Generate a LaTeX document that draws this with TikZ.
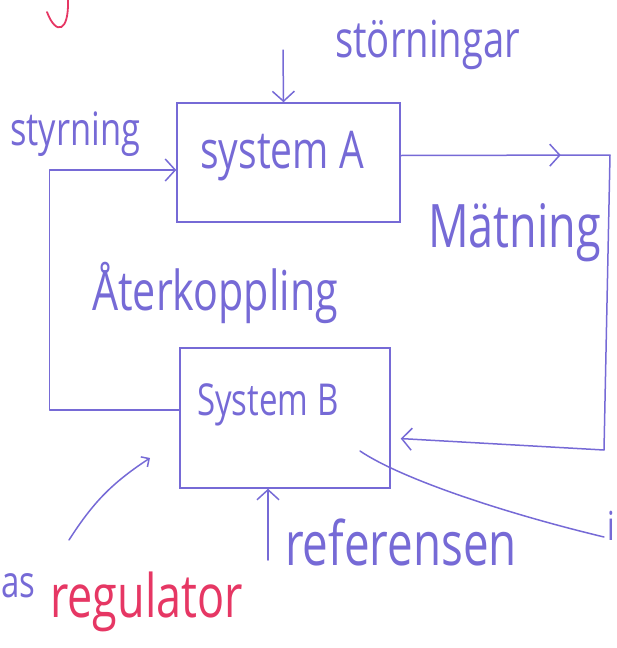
\documentclass[tikz,border=0pt]{standalone}
\usepackage{fontspec}
\usepackage{graphicx}
\setmainfont{Open Sans}
\usetikzlibrary{positioning, calc, arrows.meta, decorations.markings}

\definecolor{Pen}{RGB}{118,106,214}
\definecolor{RedPen}{RGB}{230,55,100}
\newcommand{\hand}[2]{\fontsize{#1}{#1}\selectfont\scalebox{0.75}[1]{#2}}

\tikzstyle{Line} = [draw=Pen, line width=1.5pt, line cap=round, line join=round]
\tikzstyle{Arrow} = [Line, -{Straight Barb[length=10pt, width=22pt]}]
\tikzstyle{Block} = [draw=Pen, line width=1.5pt, inner sep=0pt]
\tikzstyle{Text} = [text=Pen, inner sep=0pt, anchor=base west]

\begin{document}
\begin{tikzpicture}[x=1pt, y=-1pt]
    \useasboundingbox (0,0) rectangle (617,648);

    \node [Block, minimum width=223pt, minimum height=119pt] (1) at (288.5,162.5) {};
    \node [Block, minimum width=210pt, minimum height=140pt] (2) at (285,418) {};

    \node [Text] (3) at (200,168) {\hand{52}{system A}};
    \node [Text] (4) at (197,415) {\hand{44}{System B}};
    \node [Text] (5) at (335,57) {\hand{51}{störningar}};
    \node [Text] (6) at (10,145) {\hand{46}{styrning}};
    \node [Text] (7) at (428,247) {\hand{60}{Mätning}};
    \node [Text] (8) at (92,310) {\hand{55}{Återkoppling}};
    \node [Text] (9) at (285,565) {\hand{61}{referensen}};
    \node [Text, text=RedPen] (10) at (50,617) {\hand{60}{regulator}};
    \node [Text] (11) at (1,597) {\hand{44}{as}};
    \node [Text] (12) at (607,540) {\hand{40}{i}};

    \coordinate (a) at (283,50);
    \coordinate (b) at (610,155);
    \coordinate (c) at (604,450);
    \coordinate (d) at (268,560);
    \coordinate (e) at (360,451);
    \coordinate (f) at (604,537);
    \coordinate (g) at (69,540);
    \coordinate (h) at (150,458);

    \draw[Arrow] (a) -- ([xshift=-5pt]1.north);
    \draw[Arrow] (d) -- ([xshift=-17pt]2.south);
    \draw[Arrow] ([yshift=8pt]2.west) -- ++(-130,0) |- ([yshift=-7.5pt]1.west);
    \draw[Arrow, shorten >=10pt,
        decoration={markings, mark=at position 160pt with {\arrow{Straight Barb[length=10pt, width=22pt]}}},
        postaction={decorate}]
        ([yshift=7pt]1.east) -- (b) -- (c) -- ([yshift=-20pt]2.east);
    \draw[Line] (e) .. controls (400,478) and (500,512) .. (f);
    \draw[Line, -{Straight Barb[length=6pt, width=12pt]}] (g) to [bend left=12] (h);

    % red mark at the top
    \draw[RedPen, line width=1.8pt, line cap=round] (68,0) .. controls (69,32) and (56,36) .. (47,12);
\end{tikzpicture}
\end{document}
